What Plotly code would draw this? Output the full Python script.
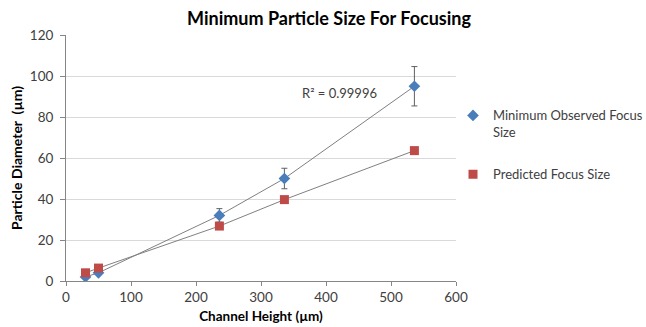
import plotly.graph_objects as go

channel_height = [30, 50, 236, 336, 536]
observed = [2, 4, 32, 50, 95]
observed_err = [0.2, 0.4, 3.3, 5.0, 9.6]
predicted = [4, 6.3, 26.8, 39.7, 63.6]

FONT = "Lato"
blue = "#4A7EBB"
red = "#BE4B48"
line_gray = "#808080"

fig = go.Figure()
fig.add_trace(go.Scatter(x=channel_height, y=observed, mode="lines",
                         line=dict(color=line_gray, width=1), showlegend=False, hoverinfo="skip"))
fig.add_trace(go.Scatter(x=channel_height, y=predicted, mode="lines",
                         line=dict(color=line_gray, width=1), showlegend=False, hoverinfo="skip"))
fig.add_trace(go.Scatter(x=channel_height, y=observed, mode="markers",
                         name="Minimum Observed Focus<br>Size", legendgroup="a",
                         marker=dict(symbol="diamond", size=9, color=blue),
                         error_y=dict(type="data", array=observed_err, color="#606060",
                                      thickness=1, width=3)))
fig.add_trace(go.Scatter(x=channel_height, y=predicted, mode="markers",
                         name="Predicted Focus Size", legendgroup="b",
                         marker=dict(symbol="square", size=9, color=red)))

fig.add_annotation(x=421, y=91.7, text="R² = 0.99996", showarrow=False,
                   font=dict(family=FONT, size=13, color="#404040"))

fig.update_layout(
    width=646, height=327,
    margin=dict(l=66, r=190, t=35, b=46, autoexpand=False),
    paper_bgcolor="white", plot_bgcolor="white",
    font=dict(family=FONT, size=13, color="#404040"),
    title=dict(text="<b>Minimum Particle Size For Focusing</b>", x=329/646, xanchor="center",
               y=1 - 19/327, yanchor="middle", font=dict(family=FONT, size=18, color="#000000")),
    legend=dict(x=(453 - 66) / 390, xanchor="left", y=0.734, yanchor="top", tracegroupgap=22,
                valign="top",
                font=dict(family=FONT, size=13, color="#404040"), itemwidth=30,
                bgcolor="rgba(0,0,0,0)"),
    xaxis=dict(range=[0, 600], dtick=100, showgrid=False, zeroline=False,
               showline=True, linecolor="#868686", ticks="outside", ticklen=4, tickcolor="#868686",
               title=dict(text="<b>Channel Height (µm)</b>", standoff=7,
                          font=dict(family=FONT, size=13.5, color="#000000")),
               tickfont=dict(family=FONT, size=13.5, color="#404040")),
    yaxis=dict(range=[0, 120], dtick=20, showgrid=True, gridcolor="#D9D9D9", zeroline=False,
               showline=True, linecolor="#868686", ticks="outside", ticklen=5, tickcolor="#868686",
               ticklabelstandoff=4,
               title=dict(text="<b>Particle Diameter  (µm)</b>", standoff=3,
                          font=dict(family=FONT, size=14, color="#000000")),
               tickfont=dict(family=FONT, size=13.5, color="#404040")),
)

fig.write_html("out.html")
